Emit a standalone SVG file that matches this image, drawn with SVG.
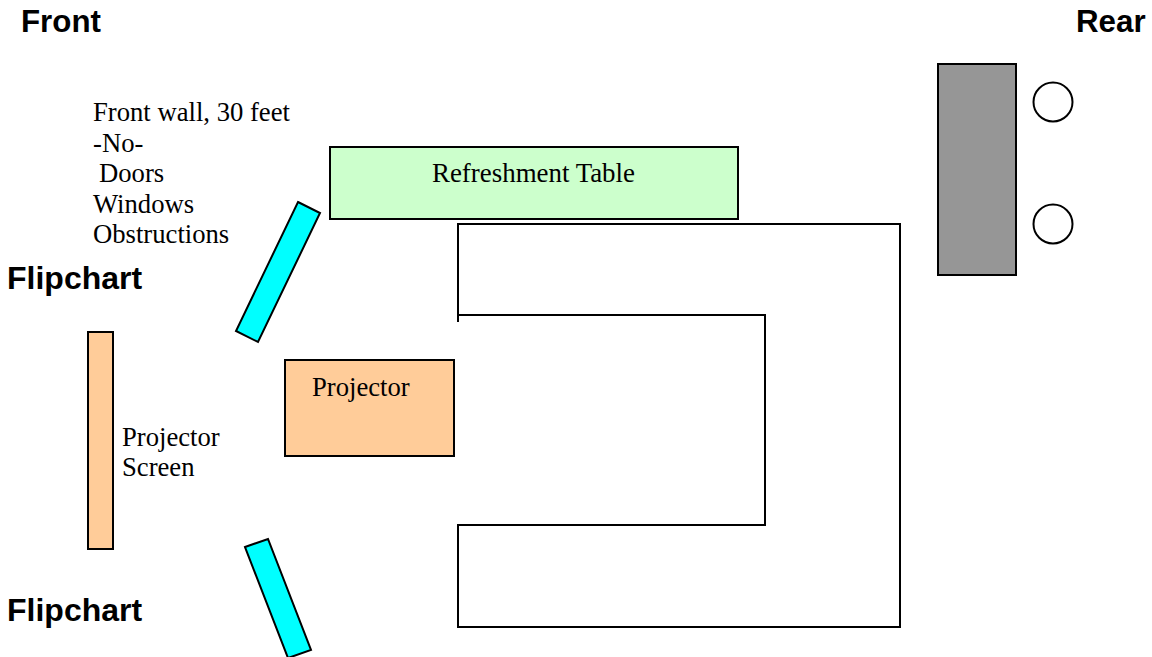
<svg xmlns="http://www.w3.org/2000/svg" width="1152" height="657" viewBox="0 0 1152 657">
<style>
.s{stroke:#000;stroke-width:2}
.t{font-family:"Liberation Serif",serif;font-size:26.67px;fill:#000}
.b{font-family:"Liberation Sans",sans-serif;font-size:31.3px;font-weight:bold;fill:#000}
.f{font-size:32px}
.l{fill:none;stroke:#000;stroke-width:2}
</style>
<rect width="1152" height="657" fill="#fff"/>
<g id="front"><text class="b" x="21" y="32">Front</text></g>
<g id="rear"><text class="b" x="1076" y="32">Rear</text></g>
<g id="wall-note"><text class="t" x="93" y="121">Front wall, 30 feet</text><text class="t" x="93" y="152">-No-</text><text class="t" x="99" y="182">Doors</text><text class="t" x="93" y="213">Windows</text><text class="t" x="93" y="243">Obstructions</text></g>
<g id="table"><rect class="s" x="330" y="147" width="408" height="72" fill="#ccffcc"/><text class="t" x="432" y="182" style="font-size:26.9px">Refreshment Table</text></g>
<g id="rear-block"><rect class="s" x="938" y="64" width="78" height="211" fill="#969696"/></g>
<g id="seat1"><circle class="s" cx="1053" cy="102" r="19.500" fill="#fff"/></g>
<g id="seat2"><circle class="s" cx="1053" cy="224" r="19.500" fill="#fff"/></g>
<g id="flip1-label"><text class="b f" x="7" y="289">Flipchart</text></g>
<g id="flip2-label"><text class="b f" x="7" y="621">Flipchart</text></g>
<g id="flip1"><polygon class="s" points="298,202 320,213 258,342 236,331" fill="#00ffff"/></g>
<g id="flip2"><polygon class="s" points="245,547 268,539 311,650 288,658" fill="#00ffff"/></g>
<g id="screen"><rect class="s" x="88" y="332" width="25" height="217" fill="#ffcc99"/><text class="t" x="122" y="446">Projector</text><text class="t" x="122" y="476">Screen</text></g>
<g id="projector"><rect class="s" x="285" y="360" width="169" height="96" fill="#ffcc99"/><text class="t" x="312" y="396">Projector</text></g>
<g id="connectors"><path class="l" d="M458,322V224H900V627H458V525H765V315H458"/></g>
</svg>
